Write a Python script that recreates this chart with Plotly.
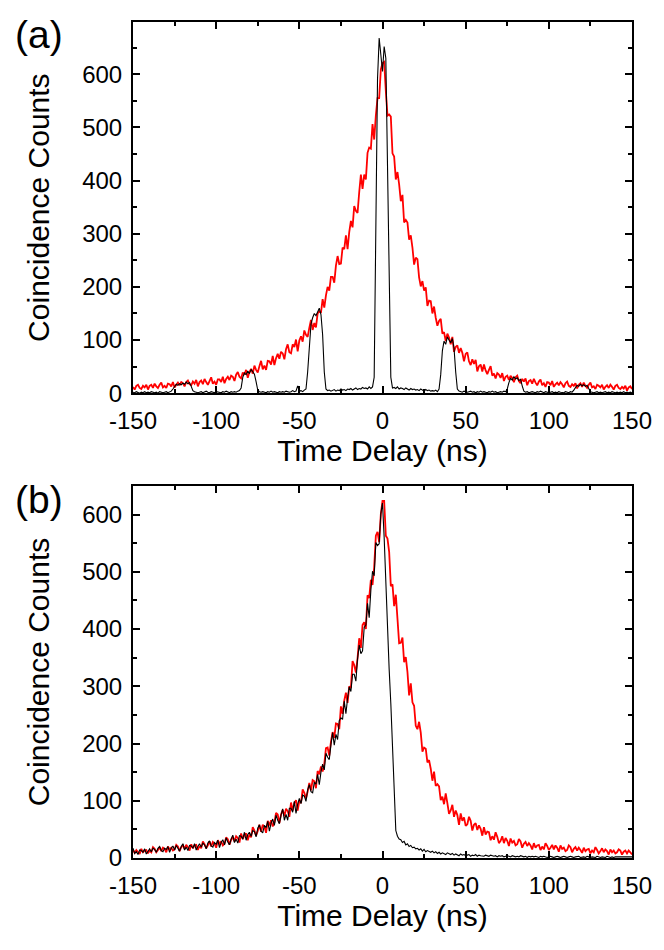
import plotly.graph_objs as go

# time axis in ns, 1 ns bins
time_ns = list(range(-150, 151))

# (a) red: broad two-sided decay
red_a = [
    12, 7, 14, 16, 10, 8, 14, 11, 16, 7,
    14, 16, 10, 18, 13, 10, 16, 20, 11, 14,
    10, 18, 17, 13, 21, 11, 16, 20, 15, 21,
    19, 13, 21, 24, 17, 15, 22, 18, 25, 13,
    21, 24, 17, 27, 21, 16, 23, 30, 18, 22,
    16, 26, 26, 21, 31, 19, 27, 31, 25, 33,
    31, 23, 35, 40, 31, 28, 39, 35, 44, 29,
    40, 46, 37, 52, 44, 39, 51, 61, 45, 52,
    44, 61, 60, 54, 70, 53, 66, 74, 65, 78,
    75, 64, 83, 92, 77, 75, 92, 87, 101, 79,
    99, 107, 97, 118, 110, 106, 123, 138, 119, 132,
    124, 150, 154, 151, 177, 161, 184, 200, 193, 219,
    219, 208, 240, 258, 243, 244, 274, 271, 297, 271,
    303, 324, 312, 352, 343, 339, 378, 411, 384, 411,
    402, 452, 462, 460, 506, 477, 522, 555, 555, 609,
    621,
    623, 568, 522, 524, 520, 451, 445, 402, 416, 393,
    361, 373, 321, 326, 321, 289, 297, 274, 242, 255,
    252, 218, 201, 211, 193, 199, 164, 174, 173, 150,
    163, 142, 127, 136, 140, 112, 115, 98, 112, 105,
    92, 106, 78, 87, 90, 76, 85, 76, 60, 74,
    77, 60, 53, 64, 55, 63, 41, 51, 54, 41,
    54, 43, 36, 44, 51, 33, 37, 28, 38, 35,
    29, 38, 23, 31, 33, 25, 33, 29, 21, 30,
    33, 23, 19, 27, 22, 28, 15, 23, 25, 18,
    27, 20, 15, 22, 26, 15, 19, 12, 21, 20,
    15, 23, 12, 17, 20, 15, 21, 17, 11, 19,
    22, 14, 12, 17, 14, 19, 9, 16, 19, 12,
    20, 14, 10, 16, 20, 11, 13, 8, 16, 14,
    11, 16, 7, 12, 15, 10, 16, 12, 7, 14,
    16, 10, 8, 12, 9, 14, 5, 11, 13, 8,
]

# (a) black: comb of peaks every ~40 ns
black_a = [
    2, 1, 3, 2, 0, 2, 1, 3, 1, 2,
    1, 3, 2, 1, 2, 0, 3, 2, 1, 2,
    3, 1, 2, 4, 8, 14, 17, 15, 18, 16,
    19, 17, 21, 18, 20, 13, 5, 3, 2, 1,
    2, 3, 1, 2, 4, 2, 1, 3, 2, 1,
    3, 2, 2, 1, 3, 2, 4, 2, 1, 3,
    2, 3, 2, 4, 5, 10, 30, 38, 35, 42,
    37, 45, 40, 36, 22, 6, 3, 2, 3, 2,
    1, 3, 2, 4, 2, 3, 2, 1, 3, 2,
    3, 2, 4, 3, 2, 3, 5, 3, 4, 14,
    4, 5, 3, 6, 8, 40, 95, 130, 142, 150,
    146, 155, 160, 148, 110, 40, 8, 5, 6, 4,
    5, 7, 4, 6, 5, 8, 6, 7, 5, 8,
    7, 9, 6, 8, 10, 7, 9, 8, 11, 9,
    10, 8, 12, 9, 12, 30, 300, 590, 668, 640,
    605,
    652, 630, 430, 180, 30, 10, 11, 9, 12, 8,
    10, 9, 7, 10, 8, 6, 9, 7, 8, 6,
    7, 5, 8, 6, 4, 7, 5, 6, 4, 5,
    4, 6, 3, 8, 35, 80, 98, 92, 106, 100,
    95, 103, 85, 40, 8, 4, 3, 2, 4, 3,
    2, 3, 4, 2, 3, 1, 3, 2, 4, 2,
    3, 2, 1, 3, 2, 4, 2, 3, 1, 2,
    3, 2, 4, 3, 8, 20, 28, 25, 31, 27,
    29, 24, 26, 14, 4, 2, 3, 1, 2, 3,
    2, 1, 3, 2, 4, 2, 1, 3, 2, 1,
    2, 3, 1, 2, 1, 3, 2, 2, 1, 3,
    2, 1, 3, 2, 6, 12, 15, 13, 17, 14,
    16, 13, 15, 9, 3, 2, 1, 2, 3, 1,
    2, 1, 2, 3, 1, 2, 1, 3, 2, 1,
    2, 1, 2, 1, 3, 1, 2, 1, 2, 1,
]

# (b) red
red_b = [
    14, 9, 14, 11, 7, 16, 10, 13, 14, 8,
    13, 10, 19, 16, 10, 14, 19, 12, 18, 16,
    10, 20, 15, 18, 13, 15, 23, 20, 12, 19,
    22, 16, 23, 19, 13, 24, 17, 22, 23, 14,
    21, 17, 29, 24, 17, 22, 29, 20, 28, 25,
    18, 31, 25, 29, 22, 25, 36, 33, 23, 32,
    37, 29, 38, 35, 27, 43, 33, 40, 43, 31,
    41, 36, 54, 48, 39, 47, 58, 46, 58, 55,
    44, 65, 57, 66, 55, 62, 79, 76, 61, 76,
    84, 73, 86, 82, 72, 97, 83, 96, 101, 83,
    100, 96, 120, 114, 104, 116, 131, 118, 136, 134,
    122, 152, 146, 160, 151, 164, 192, 193, 179, 203,
    220, 210, 235, 234, 225, 265, 252, 275, 289, 271,
    300, 297, 344, 337, 324, 349, 384, 367, 407, 412,
    400, 459, 454, 486, 477, 508, 563, 570, 552, 601,
    624,
    624, 563, 558, 535, 475, 478, 440, 460, 418, 375,
    376, 385, 342, 351, 325, 284, 305, 272, 266, 231,
    225, 238, 219, 186, 193, 191, 167, 171, 156, 135,
    151, 126, 129, 125, 101, 107, 94, 113, 96, 77,
    83, 93, 72, 83, 75, 58, 78, 65, 71, 56,
    59, 72, 65, 48, 58, 61, 49, 57, 51, 39,
    54, 41, 46, 45, 31, 38, 32, 45, 37, 26,
    30, 38, 26, 35, 30, 21, 34, 27, 30, 22,
    24, 33, 29, 18, 25, 28, 21, 26, 22, 15,
    26, 18, 22, 23, 14, 20, 15, 26, 21, 14,
    18, 23, 15, 22, 18, 11, 22, 16, 18, 12,
    14, 22, 19, 10, 16, 19, 13, 18, 14, 9,
    18, 12, 15, 16, 8, 13, 10, 19, 14, 8,
    12, 17, 10, 15, 12, 6, 15, 10, 13, 8,
    10, 15, 13, 6, 11, 13, 8, 13, 10, 6,
]

# (b) black: follows red before 0, cut off right after
black_b = [
    17, 8, 11, 6, 14, 13, 10, 16, 7, 13,
    16, 11, 17, 15, 10, 17, 20, 13, 11, 17,
    15, 20, 10, 17, 21, 14, 22, 17, 12, 20,
    25, 14, 19, 13, 22, 21, 17, 25, 14, 20,
    25, 19, 26, 23, 16, 26, 30, 21, 19, 27,
    24, 31, 18, 27, 32, 23, 35, 28, 23, 33,
    40, 27, 33, 26, 39, 38, 33, 45, 31, 41,
    45, 38, 48, 46, 37, 52, 58, 47, 44, 57,
    53, 64, 47, 61, 68, 57, 75, 66, 60, 75,
    86, 66, 76, 66, 87, 87, 80, 99, 78, 94,
    104, 95, 110, 108, 99, 119, 128, 116, 114, 132,
    129, 146, 128, 150, 164, 154, 183, 176, 172, 198,
    219, 197, 216, 207, 240, 245, 242, 274, 252, 279,
    299, 291, 321, 321, 309, 348, 372, 357, 362, 403,
    407, 445, 420, 468, 501, 493, 551, 546, 549, 602,
    620,
    560, 470, 410, 330, 270, 190, 100, 48, 38, 33,
    32, 27, 29, 23, 25, 20, 22, 18, 19, 16,
    17, 14, 16, 12, 15, 11, 13, 12, 10, 12,
    9, 11, 8, 10, 7, 9, 8, 6, 9, 7,
    6, 8, 5, 7, 6, 4, 7, 5, 6, 4,
    5, 6, 3, 5, 4, 6, 3, 5, 4, 3,
    3, 5, 4, 3, 5, 4, 3, 4, 2, 4,
    3, 4, 2, 3, 4, 3, 2, 4, 3, 2,
    3, 2, 4, 3, 2, 3, 1, 3, 2, 3,
    2, 3, 2, 1, 3, 2, 3, 2, 1, 2,
    3, 2, 1, 2, 3, 2, 1, 2, 3, 2,
    1, 2, 3, 2, 1, 2, 2, 3, 1, 2,
    2, 1, 3, 2, 1, 2, 2, 1, 3, 2,
    1, 2, 2, 1, 3, 2, 1, 2, 1, 2,
    2, 1, 2, 1, 2, 1, 1, 2, 1, 2,
]

for s in (red_a, black_a, red_b, black_b):
    assert len(s) == len(time_ns), len(s)

x_ticks = [-150, -100, -50, 0, 50, 100, 150]
x_ticklabels = ["-150", "-100", "-50", "0", "50", "100", "150"]
x_minor = [-125, -75, -25, 25, 75, 125]

FONT = "Arial, Liberation Sans, sans-serif"

fig = go.Figure()
fig.add_trace(go.Scatter(x=time_ns, y=red_a, mode="lines",
                         line=dict(color="#ff0000", width=1.8), xaxis="x", yaxis="y"))
fig.add_trace(go.Scatter(x=time_ns, y=black_a, mode="lines",
                         line=dict(color="black", width=1.1), xaxis="x", yaxis="y"))
fig.add_trace(go.Scatter(x=time_ns, y=red_b, mode="lines",
                         line=dict(color="#ff0000", width=1.8), xaxis="x2", yaxis="y2"))
fig.add_trace(go.Scatter(x=time_ns, y=black_b, mode="lines",
                         line=dict(color="black", width=1.1), xaxis="x2", yaxis="y2"))

xaxis_style = dict(range=[-150, 150], tickmode="array", tickvals=x_ticks, ticktext=x_ticklabels,
                   ticks="inside", ticklen=7, tickwidth=1.5, tickcolor="black",
                   minor=dict(ticks="inside", ticklen=4, tickmode="array", tickvals=x_minor,
                              tickwidth=1.5, tickcolor="black"),
                   showline=True, linewidth=2, linecolor="black", mirror="allticks",
                   showgrid=False, zeroline=False, ticklabelstandoff=5,
                   tickfont=dict(family=FONT, size=24, color="black"),
                   title=dict(text="Time Delay (ns)", font=dict(family=FONT, size=30, color="black"),
                              standoff=5))
yaxis_style = dict(dtick=100, tick0=0,
                   ticks="inside", ticklen=7, tickwidth=1.5, tickcolor="black",
                   minor=dict(ticks="inside", ticklen=4, dtick=50, tickwidth=1.5, tickcolor="black"),
                   showline=True, linewidth=2, linecolor="black", mirror="allticks",
                   showgrid=False, zeroline=False, ticklabelstandoff=4,
                   tickfont=dict(family=FONT, size=24, color="black"),
                   title=dict(text="Coincidence Counts", font=dict(family=FONT, size=30, color="black"),
                              standoff=24))

# the page has an 8 px body margin, so the figure is sized to fit inside it
fig.update_layout(
    width=656, height=942,
    margin=dict(l=125, r=28, t=14, b=92),
    paper_bgcolor="white", plot_bgcolor="white",
    showlegend=False,
    xaxis=dict(xaxis_style, domain=[0, 1], anchor="y"),
    yaxis=dict(yaxis_style, domain=[0.5559, 1], range=[0, 698], anchor="x"),
    xaxis2=dict(xaxis_style, domain=[0, 1], anchor="y2"),
    yaxis2=dict(yaxis_style, domain=[0, 0.445], range=[0, 650], anchor="x2"),
    annotations=[
        dict(text="(a)", xref="paper", yref="paper", x=-0.24, y=0.985,
             xanchor="left", yanchor="middle", showarrow=False,
             font=dict(family=FONT, size=39, color="black")),
        dict(text="(b)", xref="paper", yref="paper", x=-0.24, y=0.429,
             xanchor="left", yanchor="middle", showarrow=False,
             font=dict(family=FONT, size=39, color="black")),
    ],
)

fig.write_html("out.html")
